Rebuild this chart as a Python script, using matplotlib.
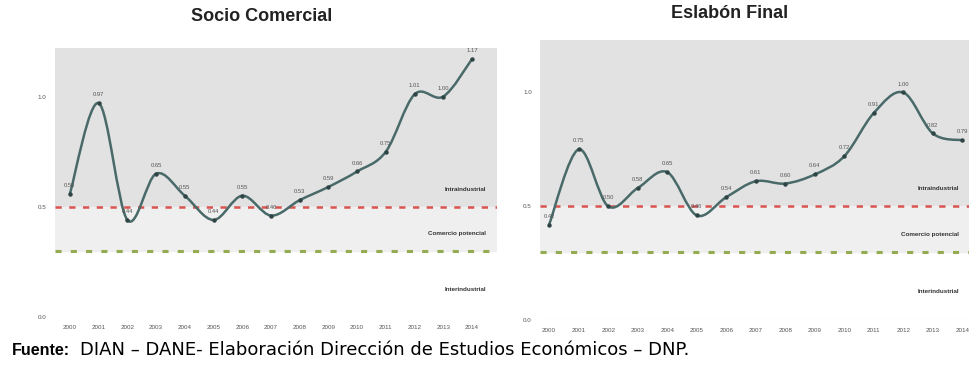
import matplotlib
matplotlib.use("Agg")
import matplotlib.pyplot as plt
from matplotlib.path import Path
from matplotlib.patches import PathPatch

plt.rcParams['font.family'] = ['Liberation Sans', 'DejaVu Sans']

# datos
years = ['2000', '2001', '2002', '2003', '2004', '2005', '2006', '2007',
         '2008', '2009', '2010', '2011', '2012', '2013', '2014']
socio_comercial = [0.56, 0.97, 0.44, 0.65, 0.55, 0.44, 0.55, 0.46,
                   0.53, 0.59, 0.66, 0.75, 1.01, 1.00, 1.17]
eslabon_final = [0.42, 0.75, 0.50, 0.58, 0.65, 0.46, 0.54, 0.61,
                 0.60, 0.64, 0.72, 0.91, 1.00, 0.82, 0.79]
umbral_alto = 0.5
umbral_bajo = 0.30
yticks = [0.0, 0.5, 1.0]
zonas = ['Intraindustrial', 'Comercio potencial', 'Interindustrial']

LINE = '#4a6a6a'


def smooth_line(ax, x, y):
    # curva suavizada tipo Excel (Catmull-Rom -> Bezier)
    verts = [(x[0], y[0])]
    codes = [Path.MOVETO]
    n = len(x)
    for i in range(n - 1):
        x0, y0 = (x[i - 1], y[i - 1]) if i > 0 else (x[i], y[i])
        x1, y1 = x[i], y[i]
        x2, y2 = x[i + 1], y[i + 1]
        x3, y3 = (x[i + 2], y[i + 2]) if i + 2 < n else (x2, y2)
        c1 = (x1 + (x2 - x0) / 6, y1 + (y2 - y0) / 6)
        c2 = (x2 - (x3 - x1) / 6, y2 - (y3 - y1) / 6)
        verts += [c1, c2, (x2, y2)]
        codes += [Path.CURVE4] * 3
    ax.add_patch(PathPatch(Path(verts, codes), facecolor='none',
                           edgecolor=LINE, lw=1.8, zorder=4))
    ax.plot(x, y, 'o', color='#2f4444', ms=2.2, zorder=5)


def panel(ax, values, xlim, ylim):
    x = list(range(len(values)))
    ax.axhspan(umbral_alto, ylim[1], color='#e2e2e2', zorder=0)
    ax.axhspan(umbral_bajo, umbral_alto, color='#efefef', zorder=0)
    ax.axhline(umbral_alto, color='#d9534f', lw=1.8, ls=(0, (2.5, 3)), zorder=2)
    ax.axhline(umbral_bajo, color='#94ab52', lw=2.2, ls=(0, (2, 3)), zorder=2)
    ax.axhline(0, color='#dddddd', lw=0.8, zorder=1)
    smooth_line(ax, x, values)
    for xi, v in zip(x, values):
        ax.annotate(f'{v:.2f}', (xi, v), xytext=(0, 5), textcoords='offset points',
                    ha='center', fontsize=4.2, color='#555555', zorder=6)
    ax.set_xlim(*xlim)
    ax.set_ylim(*ylim)
    ax.set_xticks(x)
    ax.set_xticklabels(years, fontsize=4.5, color='#555555')
    ax.set_yticks(yticks)
    ax.set_yticklabels([f'{t:.1f}' for t in yticks], fontsize=4.5, color='#555555')
    ax.tick_params(length=0, pad=6)
    for s in ax.spines.values():
        s.set_visible(False)


def zone_labels(ax, xpos):
    for yv, txt in zip([0.57, 0.37, 0.12], zonas):
        ax.text(xpos, yv, txt, ha='right', fontsize=4.5, fontweight='bold',
                color='#333333', transform=ax.get_yaxis_transform())


fig = plt.figure(figsize=(9.7, 3.65), dpi=100)

ax1 = fig.add_axes([0.0567, 0.1315, 0.4557, 0.737])
panel(ax1, socio_comercial, (-0.52, 14.87), (0, 1.22))
zone_labels(ax1, 0.975)

ax2 = fig.add_axes([0.557, 0.123, 0.464, 0.767])
panel(ax2, eslabon_final, (-0.3, 14.95), (0, 1.23))
zone_labels(ax2, 0.93)

fig.text(0.27, 0.955, 'Socio Comercial', ha='center', va='center',
         fontsize=13, fontweight='bold', color='#222222')
fig.text(0.752, 0.962, 'Eslabón Final', ha='center', va='center',
         fontsize=13, fontweight='bold', color='#222222')

fig.text(0.012, 0.04, 'Fuente:', fontsize=11.5, fontweight='bold', va='center')
fig.text(0.0825, 0.04, 'DIAN – DANE- Elaboración Dirección de Estudios Económicos – DNP.',
         fontsize=13, va='center', family='DejaVu Sans')

fig.savefig('out.png', dpi=100)
